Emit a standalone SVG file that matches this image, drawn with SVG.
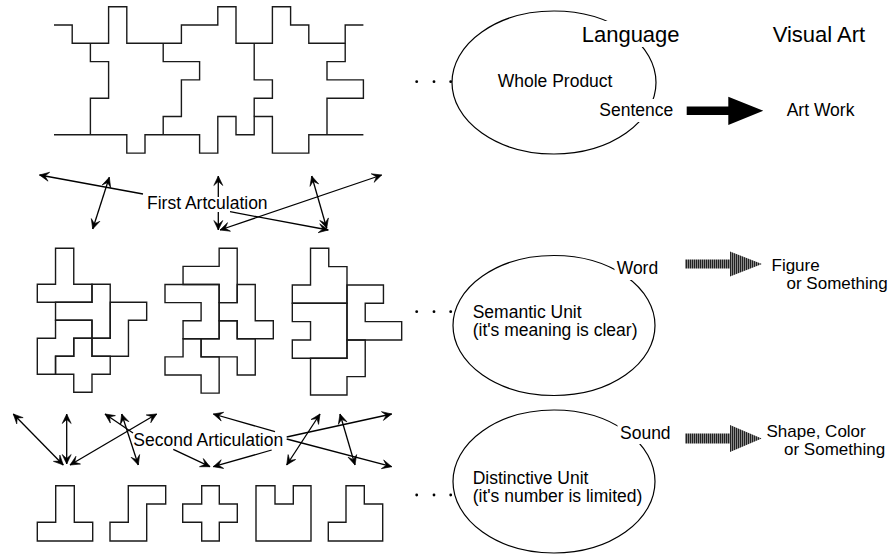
<svg xmlns="http://www.w3.org/2000/svg" width="895" height="556" viewBox="0 0 895 556">
<style>
.pz{fill:none;stroke:#1a1a1a;stroke-width:1.4;vector-effect:non-scaling-stroke;stroke-linejoin:miter}
.ab{fill:none;stroke:#1a1a1a;stroke-width:1.4;stroke-linejoin:miter}
.cn{fill:none;stroke:#000;stroke-width:1.3}
.one{marker-end:url(#ah)}
.two{marker-start:url(#ah);marker-end:url(#ah)}
.el{fill:none;stroke:#000;stroke-width:1.2}
.t{font-family:"Liberation Sans",Arial,Helvetica,sans-serif;font-size:17.5px;fill:#000}
.s{font-size:17px}
.h{font-size:22px}
.bg{fill:#fff}
</style>
<defs>
<marker id="ah" viewBox="-11 -6 12 12" refX="0" refY="0" markerWidth="12" markerHeight="12" markerUnits="userSpaceOnUse" orient="auto-start-reverse">
<path d="M0,0 L-9.5,-4.5 L-5.5,0 L-9.5,4.5 Z" fill="#000" stroke="#000" stroke-width="0.6"/>
</marker>
<pattern id="hatch" width="2" height="4" patternUnits="userSpaceOnUse">
<rect width="2" height="4" fill="#8a8a8a"/>
<rect width="1" height="4" fill="#222"/>
</pattern>
</defs>
<rect width="895" height="556" fill="#fff"/>

<g id="puzzle-whole" transform="translate(54,6.7) scale(18.2,18.3)">
<polyline class="pz" points="0,1 1,1 1,2 3,2 3,0 4,0 4,2 7,2 7,1 9,1 9,0 10,0 10,2 12,2 12,0 13,0 13,1 14,1 14,2 16,2 16,1 17,1"/>
<polyline class="pz" points="2,2 2,3 3,3 3,5 2,5 2,7"/>
<polyline class="pz" points="0,7 4,7 4,8 5,8 5,7 8,7 8,8 9,8 9,6 10,6 10,7 11,7 11,6 12,6 12,8 14,8 14,7 17,7"/>
<polyline class="pz" points="6,2 6,3 8,3 8,4 7,4 7,6 6,6 6,7"/>
<polyline class="pz" points="11,2 11,4 12,4 12,5 11,5 11,6"/>
<polyline class="pz" points="16,2 16,3 15,3 15,4 17,4 17,5 15,5 15,7"/>
</g>

<g id="puzzle-words-1" transform="translate(37.3,248.3) scale(18.23,18)">
<polygon class="pz" points="1,0 2,0 2,2 3,2 3,3 0,3 0,2 1,2"/>
<polygon class="pz" points="3,2 4,2 4,5 3,5 3,4 1,4 1,3 3,3"/>
<polygon class="pz" points="4,3 6,3 6,4 5,4 5,6 3,6 3,5 4,5"/>
<polygon class="pz" points="1,4 3,4 3,5 2,5 2,6 1,6 1,7 0,7 0,5 1,5"/>
<polygon class="pz" points="2,5 3,5 3,6 4,6 4,7 3,7 3,8 2,8 2,7 1,7 1,6 2,6"/>
</g>

<g id="puzzle-words-2" transform="translate(165,248.3) scale(18.05,18.1)">
<polygon class="pz" points="3,0 4,0 4,3 3,3 3,2 1,2 1,1 3,1"/>
<polygon class="pz" points="0,2 3,2 3,5 1,5 1,4 2,4 2,3 0,3"/>
<polygon class="pz" points="4,2 5,2 5,4 6,4 6,5 4,5 4,4 3,4 3,3 4,3"/>
<polygon class="pz" points="3,4 4,4 4,5 5,5 5,7 4,7 4,6 2,6 2,5 3,5"/>
<polygon class="pz" points="1,5 2,5 2,6 3,6 3,8 2,8 2,7 0,7 0,6 1,6"/>
</g>

<g id="puzzle-words-3" transform="translate(292.3,248.3) scale(18.23,18.33)">
<polygon class="pz" points="1,0 2,0 2,1 3,1 3,3 0,3 0,2 1,2"/>
<polygon class="pz" points="0,3 3,3 3,6 0,6 0,5 1,5 1,4 0,4"/>
<polygon class="pz" points="3,2 5,2 5,3 4,3 4,4 6,4 6,5 3,5"/>
<polygon class="pz" points="3,5 4,5 4,7 3,7 3,8 1,8 1,6 3,6"/>
</g>

<g id="units">
<polygon class="ab" points="55.7,485.7 74.3,485.7 74.3,522.3 92.7,522.3 92.7,541 37.3,541 37.3,522.3 55.7,522.3"/>
<polygon class="ab" points="128.3,485.7 165.7,485.7 165.7,504 146.7,504 146.7,541 110,541 110,522.3 128.3,522.3"/>
<polygon class="ab" points="201.7,485.7 219.3,485.7 219.3,504 237.3,504 237.3,522.3 219.3,522.3 219.3,541 201.7,541 201.7,522.3 182.7,522.3 182.7,504 201.7,504"/>
<polygon class="ab" points="256,485.7 275,485.7 275,504 293.3,504 293.3,485.7 311,485.7 311,541 256,541"/>
<polygon class="ab" points="346,485.7 364.3,485.7 364.3,504 382.7,504 382.7,541 328.3,541 328.3,522.3 346,522.3"/>
</g>

<g id="connectors">
<line class="cn one" x1="143" y1="194" x2="39.5" y2="175"/>
<line class="cn two" x1="109.3" y1="177.3" x2="92.7" y2="229"/>
<line class="cn one" x1="218.3" y1="197" x2="218.3" y2="176"/>
<line class="cn one" x1="218.3" y1="212" x2="218.3" y2="230"/>
<line class="cn two" x1="220" y1="230" x2="381.7" y2="175"/>
<line class="cn one" x1="230" y1="211.7" x2="328.3" y2="230"/>
<line class="cn two" x1="311.7" y1="176" x2="326.7" y2="228.3"/>

<line class="cn two" x1="13.3" y1="414" x2="63.3" y2="465"/>
<line class="cn two" x1="66.7" y1="414" x2="66.7" y2="464"/>
<line class="cn two" x1="156.7" y1="414" x2="70" y2="465"/>
<line class="cn one" x1="133" y1="433" x2="105" y2="414"/>
<line class="cn two" x1="121.7" y1="414" x2="138.3" y2="465"/>
<line class="cn one" x1="275" y1="431.7" x2="213.3" y2="414"/>
<line class="cn one" x1="173.3" y1="449.3" x2="210" y2="466.7"/>
<line class="cn one" x1="271.7" y1="450" x2="213.3" y2="466.7"/>
<line class="cn two" x1="320" y1="414" x2="286.7" y2="465"/>
<line class="cn one" x1="286.7" y1="437" x2="391.7" y2="414"/>
<line class="cn one" x1="286.7" y1="439" x2="391.7" y2="466.7"/>
<line class="cn two" x1="340" y1="414" x2="355" y2="465"/>
</g>

<g id="label-first">
<text class="t" x="147" y="209.3">First Artculation</text>
</g>
<g id="label-second">
<text class="t" x="133.3" y="445.7">Second Articulation</text>
</g>

<g id="ellipsis-dots" fill="#000">
<circle cx="416.7" cy="81.7" r="1.4"/><circle cx="434" cy="81.7" r="1.4"/><circle cx="450.7" cy="81.7" r="1.4"/>
<circle cx="416.7" cy="311.7" r="1.4"/><circle cx="434" cy="311.7" r="1.4"/><circle cx="450.7" cy="311.7" r="1.4"/>
<circle cx="416.7" cy="495" r="1.4"/><circle cx="434" cy="495" r="1.4"/><circle cx="450.7" cy="495" r="1.4"/>
</g>

<g id="node-whole">
<ellipse class="el" cx="554" cy="82.5" rx="102" ry="71.5"/>
<rect class="bg" x="579" y="21" width="105" height="26"/>
<text class="t h" x="581.7" y="41.5">Language</text>
<text class="t" x="497.7" y="87.3">Whole Product</text>
<rect class="bg" x="597" y="99" width="78" height="23"/>
<text class="t" x="599.3" y="116">Sentence</text>
</g>

<g id="node-semantic">
<ellipse class="el" cx="554" cy="325.5" rx="101" ry="70"/>
<rect class="bg" x="614.5" y="259" width="45" height="21"/>
<text class="t" x="616.7" y="274">Word</text>
<text class="t" x="472.7" y="317.5">Semantic Unit</text>
<text class="t" x="472.7" y="335.5">(it's meaning is clear)</text>
</g>

<g id="node-distinctive">
<ellipse class="el" cx="554" cy="481.5" rx="101" ry="71.5"/>
<rect class="bg" x="617.5" y="424" width="56" height="20"/>
<text class="t" x="620" y="439">Sound</text>
<text class="t" x="472.7" y="483.5">Distinctive Unit</text>
<text class="t" x="472.7" y="501.5">(it's number is limited)</text>
</g>

<g id="node-visual-art">
<text class="t h" x="772.7" y="41.5">Visual Art</text>
<text class="t" x="786.7" y="116">Art Work</text>
<text class="t s" x="771.5" y="271">Figure</text>
<text class="t s" x="786.5" y="289">or Something</text>
<text class="t s" x="766.5" y="436.5">Shape, Color</text>
<text class="t s" x="784" y="454.5">or Something</text>
</g>

<g id="va-arrows">
<polygon fill="#000" points="686.7,106.6 728.3,106.6 728.3,96.7 763.3,110.8 728.3,125 728.3,115 686.7,115"/>
<polygon fill="url(#hatch)" points="685,259.5 730,259.5 730,251.5 762,264 730,276.5 730,268.5 685,268.5"/>
<polygon fill="url(#hatch)" points="685,433.5 730,433.5 730,425 761.7,438.5 730,452 730,443.5 685,443.5"/>
</g>
</svg>
